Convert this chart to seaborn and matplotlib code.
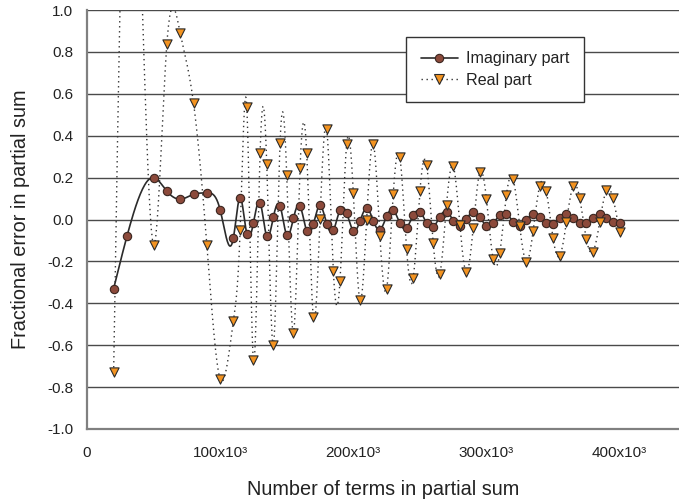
import numpy as np
import pandas as pd
import matplotlib
matplotlib.use("Agg")
import matplotlib.pyplot as plt
from matplotlib.lines import Line2D
import seaborn as sns

# ---- data (x in thousands of terms) ----
terms_k = [20, 30, 50, 60, 70, 80, 90, 100,
           110, 115, 120, 125, 130, 135, 140, 145, 150, 155, 160, 165, 170, 175,
           180, 185, 190, 195, 200, 205, 210, 215, 220, 225, 230, 235, 240, 245,
           250, 255, 260, 265, 270, 275, 280, 285, 290, 295, 300, 305, 310, 315,
           320, 325, 330, 335, 340, 345, 350, 355, 360, 365, 370, 375, 380, 385,
           390, 395, 400]

imaginary = [-0.33, -0.08, 0.20, 0.135, 0.097, 0.12, 0.127, 0.046,
             -0.086, 0.105, -0.067, -0.016, 0.081, -0.080, 0.013, 0.065, -0.074, 0.005,
             0.065, -0.055, -0.022, 0.067, -0.020, -0.052, 0.046, 0.031, -0.053, -0.008,
             0.054, -0.006, -0.049, 0.015, 0.046, -0.019, -0.040, 0.021, 0.038, -0.017,
             -0.037, 0.014, 0.038, -0.005, -0.033, 0.002, 0.036, 0.011, -0.029, -0.018,
             0.022, 0.027, -0.010, -0.030, -0.002, 0.027, 0.014, -0.018, -0.021, 0.006,
             0.027, 0.008, -0.018, -0.018, 0.008, 0.024, 0.008, -0.014, -0.018]

real = [-0.73, 2.2, -0.12, 0.84, 0.89, 0.556, -0.121, -0.761,
        -0.483, -0.052, 0.537, -0.673, 0.318, 0.263, -0.600, 0.367, 0.212, -0.540,
        0.245, 0.316, -0.466, 0.002, 0.431, -0.245, -0.292, 0.359, 0.128, -0.386,
        -0.001, 0.361, -0.081, -0.331, 0.123, 0.296, -0.142, -0.277, 0.134, 0.262,
        -0.112, -0.260, 0.070, 0.256, -0.025, -0.252, -0.041, 0.225, 0.097, -0.188,
        -0.161, 0.118, 0.193, -0.033, -0.201, -0.057, 0.161, 0.134, -0.089, -0.174,
        -0.014, 0.158, 0.102, -0.092, -0.154, -0.014, 0.139, 0.102, -0.062]

x_ticks = [0, 100, 200, 300, 400]
x_tick_labels = ["0", "100x10\u00b3", "200x10\u00b3", "300x10\u00b3", "400x10\u00b3"]
y_ticks = [-1.0, -0.8, -0.6, -0.4, -0.2, 0.0, 0.2, 0.4, 0.6, 0.8, 1.0]


def natural_spline(x, y, per=24):
    """Smooth curve through the points (natural cubic spline)."""
    x = np.asarray(x, float)
    y = np.asarray(y, float)
    n = len(x)
    h = np.diff(x)
    A = np.zeros((n, n))
    b = np.zeros(n)
    A[0, 0] = 1.0
    A[-1, -1] = 1.0
    for i in range(1, n - 1):
        A[i, i - 1] = h[i - 1]
        A[i, i] = 2 * (h[i - 1] + h[i])
        A[i, i + 1] = h[i]
        b[i] = 6 * ((y[i + 1] - y[i]) / h[i] - (y[i] - y[i - 1]) / h[i - 1])
    M = np.linalg.solve(A, b)
    xs, ys = [], []
    for i in range(n - 1):
        t = np.linspace(x[i], x[i + 1], per, endpoint=False)
        a = x[i + 1] - t
        c = t - x[i]
        hi = h[i]
        s = (M[i] * a ** 3 / (6 * hi) + M[i + 1] * c ** 3 / (6 * hi)
             + (y[i] / hi - M[i] * hi / 6) * a + (y[i + 1] / hi - M[i + 1] * hi / 6) * c)
        xs.append(t)
        ys.append(s)
    xs.append([x[-1]])
    ys.append([y[-1]])
    return np.concatenate(xs), np.concatenate(ys)


df = pd.DataFrame({"terms": terms_k, "imag": imaginary, "real": real})
xi, yi = natural_spline(df["terms"], df["imag"])
xr, yr = natural_spline(df["terms"], df["real"])

sns.set_theme(style="white")
plt.rcParams["font.family"] = ["Liberation Sans", "DejaVu Sans"]

fig = plt.figure(figsize=(6.79, 5.03), dpi=100)
ax = fig.add_axes([87 / 679, 1 - 429 / 503, 1 - 87 / 679, (429 - 10) / 503])

line_dark = "#2b2b2b"
brown = "#8c4a3b"
orange = "#f39320"

sns.lineplot(x=xr, y=yr, ax=ax, sort=False, estimator=None, color="#333333",
             linewidth=1.0, linestyle=(0, (1, 2.6)), zorder=2)
sns.lineplot(x=xi, y=yi, ax=ax, sort=False, estimator=None, color=line_dark,
             linewidth=1.2, zorder=2.5)
sns.scatterplot(data=df, x="terms", y="imag", ax=ax, marker="o", s=36,
                color=brown, edgecolor="#3a2620", linewidth=0.8, zorder=3)
sns.scatterplot(data=df, x="terms", y="real", ax=ax, marker="v", s=44,
                color=orange, edgecolor="#2a2a2a", linewidth=0.8, zorder=4)

ax.set_xlim(0, 444.6)
ax.set_ylim(-1.0, 1.0)
ax.set_xticks(x_ticks)
ax.set_xticklabels(x_tick_labels)
ax.set_yticks(y_ticks)
ax.set_yticklabels([f"{v:.1f}" for v in y_ticks])

ax.yaxis.grid(True, color="#4a4a4a", linewidth=1.0)
ax.xaxis.grid(False)
ax.set_axisbelow(True)

for side in ["top", "right"]:
    ax.spines[side].set_visible(False)
for side in ["left", "bottom"]:
    ax.spines[side].set_color("#808080")
    ax.spines[side].set_linewidth(1.6)

ax.tick_params(axis="both", which="major", direction="inout", length=8,
               width=1.2, color="#808080", labelsize=11, labelcolor="#222222")
ax.tick_params(axis="y", pad=6)
ax.tick_params(axis="x", pad=8)

ax.set_xlabel("Number of terms in partial sum", fontsize=14.3, color="#222222", labelpad=14.5)
ax.set_ylabel("Fractional error in partial sum", fontsize=14.3, color="#222222", labelpad=12)

handles = [
    Line2D([], [], color=line_dark, linewidth=1.2, marker="o", markersize=6,
           markerfacecolor=brown, markeredgecolor="#3a2620", markeredgewidth=0.8),
    Line2D([], [], color="#333333", linewidth=1.0, linestyle=(0, (1, 2.6)), marker="v",
           markersize=6.5, markerfacecolor=orange, markeredgecolor="#2a2a2a",
           markeredgewidth=0.8),
]
leg = fig.legend(handles, ["Imaginary part", "Real part"], loc="upper left",
                 bbox_to_anchor=(406 / 679, 1 - 37 / 503), bbox_transform=fig.transFigure,
                 fontsize=11.6, frameon=True, fancybox=False, framealpha=1,
                 edgecolor="#333333", handlelength=2.35, handletextpad=0.5,
                 borderpad=0.9, labelspacing=0.4, borderaxespad=0)
leg.get_frame().set_linewidth(1.0)
for t in leg.get_texts():
    t.set_color("#222222")

fig.savefig("out.png", dpi=100)
